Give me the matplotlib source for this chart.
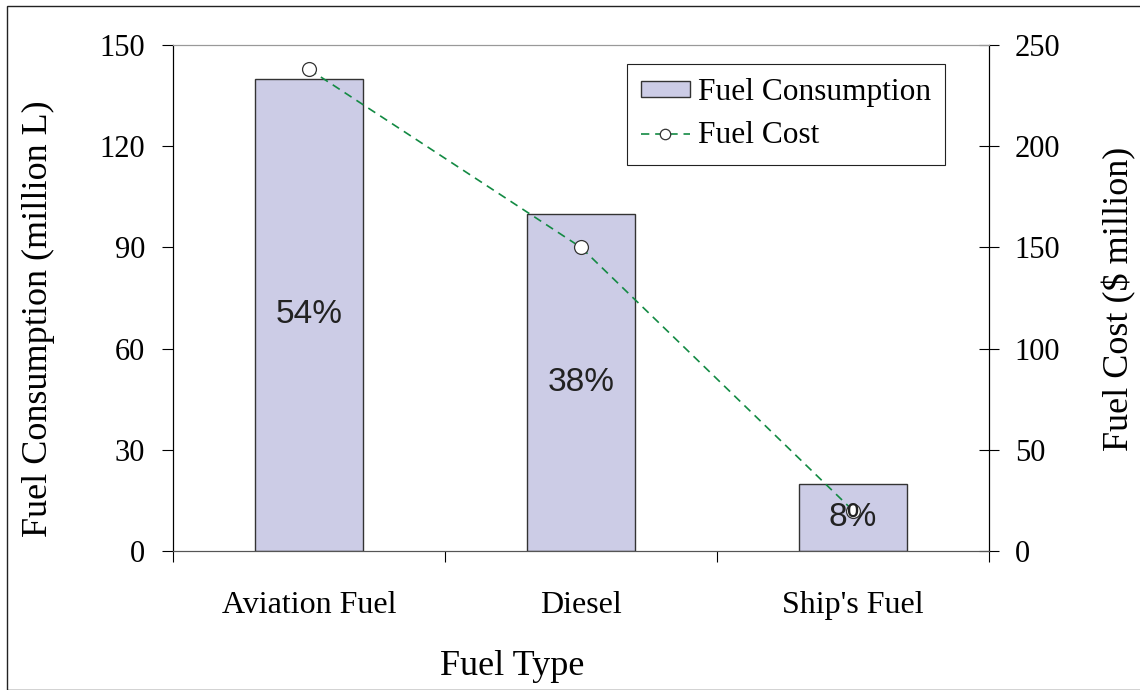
import matplotlib
matplotlib.use("Agg")
import matplotlib.pyplot as plt
from matplotlib.patches import Patch, Rectangle
from matplotlib.lines import Line2D

fuel_types = ["Aviation Fuel", "Diesel", "Ship's Fuel"]
consumption = [140, 100, 20]      # million L
cost = [238, 150, 20]             # $ million
shares = ["54%", "38%", "8%"]

plt.rcParams['font.family'] = ['Liberation Serif', 'DejaVu Serif']

BAR_COLOR = "#ccccE6"
LINE_COLOR = "#138a43"
DASH = (0, (5, 3.5))

fig = plt.figure(figsize=(11.4, 6.9), dpi=100)
ax = fig.add_axes([0.1518, 0.2014, 0.7157, 0.7334])
ax2 = ax.twinx()

x = list(range(len(fuel_types)))
ax.bar(x, consumption, width=0.4, color=BAR_COLOR, edgecolor="#333333",
       linewidth=1.0, zorder=2)

ax2.plot(x, cost, color=LINE_COLOR, linestyle=DASH, linewidth=1.2,
         marker="o", markersize=10, markerfacecolor="white",
         markeredgecolor="#333333", markeredgewidth=0.9, zorder=3)

# share of total consumption, centred in each bar
for xi, v, s in zip(x, consumption, shares):
    ax2.text(xi, v / 2, s, transform=ax.transData, ha="center", va="center",
             fontsize=24, family="Liberation Sans", color="#222222", zorder=5)

ax.set_xlim(-0.5, 2.5)
ax.set_ylim(0, 150)
ax2.set_ylim(0, 250)
ax.set_yticks(range(0, 151, 30))
ax2.set_yticks(range(0, 251, 50))

# boundary ticks between categories, names on minor ticks
ax.set_xticks([-0.5, 0.5, 1.5, 2.5])
ax.set_xticklabels([])
ax.set_xticks(x, minor=True)
ax.set_xticklabels(fuel_types, minor=True)
ax.tick_params(axis="x", which="major", direction="out", length=8, width=0.8)
ax.tick_params(axis="x", which="minor", length=0, pad=29, labelsize=23)
ax.tick_params(axis="y", direction="out", length=8, width=0.8, pad=12,
               labelsize=22)
ax2.tick_params(axis="y", direction="inout", length=15, width=0.8, pad=11,
                labelsize=22)

for a in (ax, ax2):
    a.spines["top"].set_color("#999999")
    a.spines["top"].set_linewidth(0.8)
    a.spines["bottom"].set_color("#555555")
    a.spines["left"].set_linewidth(0.8)
    a.spines["right"].set_linewidth(0.8)

fig.text(0.034, 0.538, "Fuel Consumption (million L)", rotation=90,
         ha="center", va="center", fontsize=26)
fig.text(0.982, 0.567, "Fuel Cost ($ million)", rotation=90,
         ha="center", va="center", fontsize=26)
fig.text(0.449, 0.034, "Fuel Type", ha="center", va="center", fontsize=26)

handles = [
    Patch(facecolor=BAR_COLOR, edgecolor="#333333", linewidth=1.0),
    Line2D([], [], color=LINE_COLOR, linestyle=DASH, linewidth=1.2,
           marker="o", markersize=7.5, markerfacecolor="white",
           markeredgecolor="#333333", markeredgewidth=0.9),
]
leg = ax2.legend(handles, ["Fuel Consumption", "Fuel Cost"],
                 loc="upper right", bbox_to_anchor=(0.946, 0.962),
                 fontsize=22.6, frameon=True, fancybox=False, framealpha=1,
                 edgecolor="#222222", handlelength=1.55, handleheight=0.42,
                 handletextpad=0.25, borderpad=0.45, labelspacing=0.45,
                 borderaxespad=0)
leg.get_frame().set_linewidth(0.8)

# outer border of the figure (top and left edges)
fig.patches.append(Rectangle((0.006, 0.0), 1.1, 0.991, transform=fig.transFigure,
                             fill=False, edgecolor="#222222", linewidth=1.0))

fig.savefig("out.png", dpi=100)
